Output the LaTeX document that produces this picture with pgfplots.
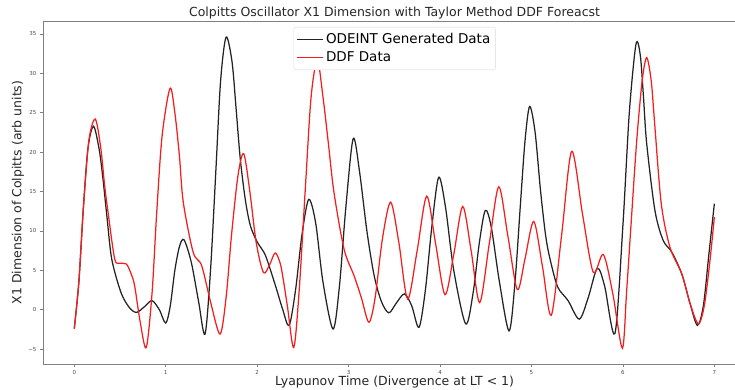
\documentclass[border=0pt]{standalone}
\usepackage{fontspec}
\setmainfont{DejaVu Sans}
\usepackage{pgfplots}
\pgfplotsset{compat=1.18}
\definecolor{odecol}{RGB}{35,35,35}
\definecolor{ddfcol}{RGB}{245,30,30}
\definecolor{spine}{RGB}{128,128,128}

% ODEINT reference trajectory (x1 component)
\pgfplotstableread{
t y
0.000 -2.4
0.05 3.5
0.10 13
0.15 20.5
0.21 23.3
0.27 20.5
0.31 17.0
0.36 11.5
0.41 6.4
0.51 2.2
0.60 0.3
0.68 -0.35
0.77 0.4
0.85 1.15
0.93 0.0
1.00 -1.7
1.05 0.5
1.10 5.0
1.15 8.0
1.20 8.87
1.28 6.0
1.36 1.0
1.43 -3.1
1.49 5
1.55 18
1.60 29
1.66 34.6
1.725 31.5
1.77 25.5
1.815 19.2
1.87 14.0
1.925 10.7
2.00 8.6
2.09 6.9
2.20 3.05
2.28 0.0
2.35 -2.0
2.42 2.5
2.49 9.5
2.564 14.0
2.64 11.0
2.72 3.5
2.83 -2.46
2.90 3
2.97 13
3.05 21.7
3.12 17.5
3.20 10.0
3.28 4.3
3.36 1.0
3.44 -0.4
3.52 0.8
3.61 2.0
3.69 0.5
3.77 -2.25
3.84 2.5
3.91 10.5
3.985 16.8
4.06 13
4.15 5.0
4.28 -1.8
4.36 2.0
4.43 8.5
4.495 12.6
4.56 10.5
4.65 3.5
4.755 -2.7
4.82 3.5
4.88 13.5
4.93 21.5
4.98 25.8
5.04 22.5
5.10 15.0
5.16 9.0
5.22 5.6
5.29 2.8
5.40 1.15
5.523 -1.2
5.62 1.5
5.72 5.25
5.80 3.0
5.913 -3.0
6.00 10.7
6.07 25
6.143 33.7
6.19 32.3
6.225 27
6.26 21.1
6.35 12.6
6.44 8.8
6.535 7.3
6.645 4.5
6.735 0.75
6.815 -2.0
6.88 0.5
6.94 7.0
7.0 13.45
}\odeint

% DDF forecast of the same component
\pgfplotstableread{
t y
0.0 -2.4
0.05 3.5
0.10 13
0.16 21.5
0.23 24.2
0.29 20.5
0.33 16
0.369 12.4
0.442 6.45
0.50 5.9
0.569 5.8
0.62 4.6
0.66 3.05
0.72 -1.5
0.787 -4.8
0.85 2
0.90 12
0.96 22
1.047 28.1
1.10 25.0
1.15 19.5
1.192 13.65
1.30 7.3
1.393 5.6
1.49 1.0
1.594 -3.1
1.66 1.5
1.72 9.5
1.79 17
1.853 19.8
1.92 15
1.99 8.5
2.07 4.7
2.14 5.8
2.198 7.2
2.26 5.5
2.33 0.5
2.40 -4.8
2.46 2.5
2.53 16
2.59 27
2.658 31.7
2.72 27
2.78 21
2.84 14.9
2.95 7.7
3.06 4.3
3.14 1.5
3.222 -1.6
3.29 1.5
3.37 9.0
3.46 13.65
3.55 8.5
3.646 1.35
3.75 7.5
3.854 14.4
3.95 8.5
4.054 1.9
4.15 7.0
4.248 13.1
4.34 7.5
4.434 0.9
4.54 8.5
4.642 15.6
4.74 9.5
4.845 2.55
4.93 6.5
5.025 11.2
5.12 5.5
5.217 -0.7
5.33 9.5
5.44 20.1
5.56 12.0
5.676 4.75
5.786 7.0
5.89 2.0
5.994 -4.9
6.04 2.2
6.09 11
6.15 21.3
6.21 29
6.26 32.0
6.31 29
6.35 23.2
6.42 13.4
6.515 7.9
6.645 4.5
6.735 0.75
6.825 -1.8
6.89 0.5
6.95 6.0
7.0 11.75
}\ddf

\begin{document}
\begin{tikzpicture}
\begin{axis}[
  at={(0,0)}, anchor=south west,
  scale only axis, width=692pt, height=343pt,
  xmin=-0.342, xmax=7.226, ymin=-6.9, ymax=36.65,
  axis line style={draw=none},
  clip=false,
  xtick={0,1,2,3,4,5,6,7},
  xticklabels={0,1,2,3,4,5,6,7},
  ytick={-5,0,5,10,15,20,25,30,35},
  yticklabels={−5,0,5,10,15,20,25,30,35},
  tick label style={font=\fontsize{5.5}{6}\selectfont, text=black!70},
  tick align=outside, major tick length=3pt,
  tick style={spine, line width=0.6pt},
  xtick pos=bottom, ytick pos=left,
  legend style={at={(0.508,1)}, yshift=-6pt, anchor=north,
    draw=black!15, rounded corners=2pt,
    font=\fontsize{13.5}{16}\selectfont,
    inner xsep=3pt, inner ysep=3pt,
    /tikz/every even column/.append style={column sep=4pt}},
  legend cell align=left,
  legend image code/.code={\draw[#1] (0pt,0pt) -- (26pt,0pt);},
  legend style={nodes={inner ysep=3.4pt}},
]
\draw[spine, line width=0.9pt] (rel axis cs:0,1) -- (rel axis cs:0,0) -- (rel axis cs:1,0);
\draw[spine, line width=0.9pt] (rel axis cs:0,1) -- (rel axis cs:1,1);

\addplot[odecol, line width=1.25pt, smooth] table[x=t, y=y] {\odeint};
\addlegendentry{ODEINT Generated Data}
\addplot[ddfcol, line width=1.25pt, smooth] table[x=t, y=y] {\ddf};
\addlegendentry{DDF Data}

\node[font=\fontsize{12.5}{14}\selectfont, anchor=base, text=black!85]
  at (rel axis cs:0.508,1) [yshift=4.5pt] {Colpitts Oscillator X1 Dimension with Taylor Method DDF Foreacst};
\node[font=\fontsize{12.5}{14}\selectfont, text=black!85]
  at (rel axis cs:0.508,0) [yshift=-18pt] {Lyapunov Time (Divergence at LT < 1)};
\node[font=\fontsize{12.5}{14}\selectfont, rotate=90, text=black!85]
  at ([xshift=-25pt]rel axis cs:0,0.5) {X1 Dimension of Colpitts (arb units)};
\end{axis}
\pgfresetboundingbox
\useasboundingbox (-43pt,-26pt) rectangle (692pt,364pt);
\end{tikzpicture}
\end{document}
